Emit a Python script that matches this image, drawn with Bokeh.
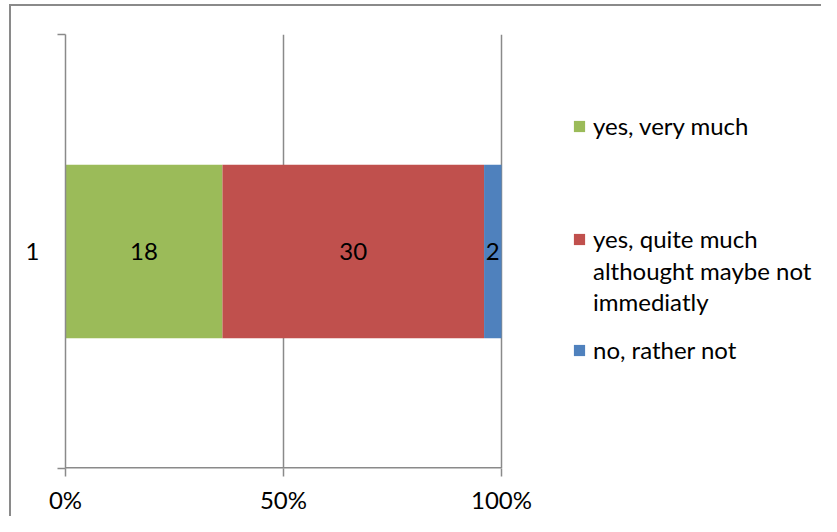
from bokeh.plotting import figure
from bokeh.models import FixedTicker, Legend, LegendItem, ColumnDataSource
from bokeh.embed import file_html
from bokeh.resources import INLINE
from bokeh.core.properties import value

# ---- data ----
categories = ["1"]
series_names = ["yes, very much",
                "yes, quite much\nalthought maybe not\nimmediatly",
                "no, rather not"]
series_values = [18, 30, 2]
series_colors = ["#9BBB59", "#C0504D", "#4F81BD"]
x_tick_values = [0, 0.5, 1]
x_tick_labels = ["0%", "50%", "100%"]

FONT = "Lato"
FS = "24px"
GREY = "#8a8a8a"

total = float(sum(series_values))
fracs = [v / total for v in series_values]
lefts, rights = [], []
acc = 0.0
for f in fracs:
    lefts.append(acc)
    acc += f
    rights.append(acc)
mids = [(l + r) / 2 for l, r in zip(lefts, rights)]

# layout (pixels)
W, H = 821, 516
LEFT, TOP, BOTTOM = 65, 34, 46
BAR_AREA = 436.0            # pixels between 0% and 100%
FRAME_H = H - TOP - BOTTOM
frame_w = W - LEFT
x_end = frame_w / BAR_AREA  # frame extends to the right to hold the legend

bg = ("linear-gradient({c},{c}), linear-gradient({c},{c})").format(c=GREY)
p = figure(width=W, height=H, output_backend="svg", toolbar_location=None,
           x_range=(0, x_end), y_range=(0.5, 1.5),
           min_border_left=LEFT, min_border_top=TOP, min_border_right=0, min_border_bottom=BOTTOM,
           styles={"background-color": "white", "background-image": bg,
                   "background-size": "2px 100%, 100% 2px",
                   "background-position": "9px 4px, 9px 4px",
                   "background-repeat": "no-repeat"})
p.outline_line_color = None
p.background_fill_color = "white"
p.border_fill_alpha = 0

# grid
p.ygrid.visible = False
p.xgrid.ticker = FixedTicker(ticks=x_tick_values)
p.xgrid.grid_line_color = GREY
p.xgrid.grid_line_width = 1.5

# x axis
xa = p.xaxis[0]
xa.ticker = FixedTicker(ticks=x_tick_values)
xa.major_label_overrides = {t: lab for t, lab in zip(x_tick_values, x_tick_labels)}
xa.major_tick_out = 8
xa.major_tick_in = 0
xa.minor_tick_out = 0
xa.minor_tick_in = 0
xa.axis_line_color = None
xa.major_tick_line_color = GREY
xa.major_tick_line_width = 1.5
xa.major_label_text_font = FONT
xa.major_label_text_font_size = FS
xa.major_label_text_color = "black"
xa.major_label_standoff = 8

# axis line of the value axis only across 0..100%
p.segment(x0=[x_tick_values[0]], y0=[0.5], x1=[x_tick_values[-1]], y1=[0.5],
          line_color=GREY, line_width=3)

# y axis: category label at centre, boundary ticks as minor ticks
ya = p.yaxis[0]
ya.ticker = FixedTicker(ticks=[1.0], minor_ticks=[0.5, 1.5])
ya.major_label_overrides = {1.0: categories[0]}
ya.major_tick_out = 0
ya.major_tick_in = 0
ya.minor_tick_out = 8
ya.minor_tick_in = 0
ya.minor_tick_line_color = GREY
ya.minor_tick_line_width = 1.5
ya.axis_line_color = GREY
ya.axis_line_width = 1.5
ya.major_label_text_font = FONT
ya.major_label_text_font_size = FS
ya.major_label_text_color = "black"
ya.major_label_standoff = 18

# bars
renderers = []
for i in range(len(series_values)):
    src = ColumnDataSource(dict(y=[1.0], left=[lefts[i]], right=[rights[i]]))
    r = p.hbar(y="y", left="left", right="right", height=0.40, source=src,
               fill_color=series_colors[i], line_color=None)
    renderers.append(r)

# invisible renderer for the continuation lines of the long legend label
ghost = p.hbar(y=[], left=[], right=[], height=0.4, fill_alpha=0, line_alpha=0)

# data labels
lab_src = ColumnDataSource(dict(x=mids, y=[1.0] * len(mids), t=[str(v) for v in series_values]))
p.text(x="x", y="y", text="t", source=lab_src, text_align="center", text_baseline="middle",
       text_font=value(FONT), text_font_size=FS, text_color="black")

# legends (label split per line so the swatch sits on the first line)
red_lines = series_names[1].split("\n")
entries = [
    (series_names[0], renderers[0], 93),
    (red_lines[0], renderers[1], 206),
    (red_lines[1], ghost, 238),
    (red_lines[2], ghost, 269),
    (series_names[2], renderers[2], 317),
]
for label, rend, center_from_top in entries:
    vy = FRAME_H - center_from_top - 15
    lg = Legend(items=[LegendItem(label=label, renderers=[rend])],
                location=(507, vy), padding=0, margin=0, spacing=0,
                border_line_color=None, background_fill_alpha=0,
                glyph_width=14, glyph_height=14, label_standoff=7,
                label_text_font=FONT, label_text_font_size=FS,
                label_text_line_height=1.42, label_text_color="black")
    p.add_layout(lg, "center")

open("out.html", "w").write(file_html(p, INLINE))
